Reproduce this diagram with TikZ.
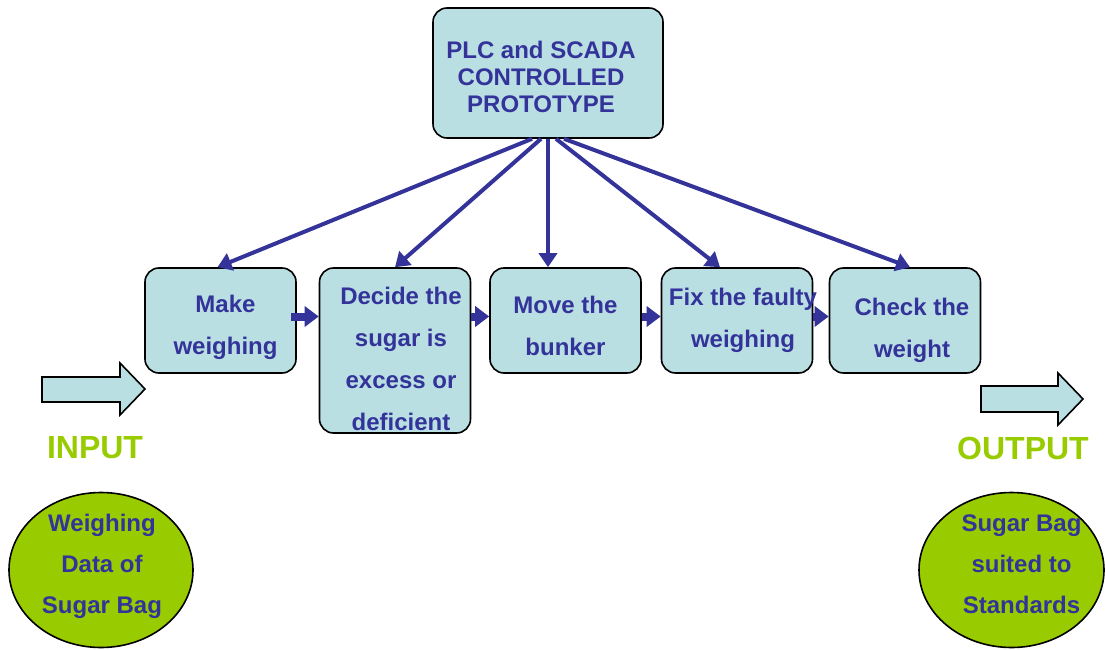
\documentclass[tikz,border=0pt]{standalone}
\usepackage{fontspec}
\setmainfont{Liberation Sans}
\usetikzlibrary{arrows.meta,positioning,shapes.geometric}
\definecolor{cfill}{HTML}{B9DFE3}
\definecolor{cblue}{HTML}{333399}
\definecolor{cgreen}{HTML}{99CC00}

\tikzset{
    stepbox/.style={draw=black, line width=1.6pt, fill=cfill, rounded corners=14pt,
        minimum width=151pt, minimum height=105pt},
    steptext/.style={align=center, text=cblue, inner sep=0pt,
        font=\fontsize{24}{42}\selectfont\bfseries},
    fanarrow/.style={cblue, line width=4pt, -{Triangle[length=14pt,width=18pt]}},
    linkarrow/.style={cblue, line width=8pt, -{Triangle[length=14pt,width=20pt]}},
    blockarrow/.style={draw=black, line width=1.6pt, fill=cfill},
    endblob/.style={ellipse, draw=black, line width=1.6pt, fill=cgreen},
    iolabel/.style={text=cgreen, font=\fontsize{32}{34}\selectfont\bfseries}
}

\begin{document}
\begin{tikzpicture}[x=1pt,y=-1pt]
    \useasboundingbox (0,0) rectangle (1105,650);

    \node[stepbox, minimum width=230pt, minimum height=130pt] (plc) at (548,73) {};
    \node[steptext, font=\fontsize{24}{27}\selectfont\bfseries] (plctext)
          at ([shift={(-7,4)}]plc.center) {PLC and SCADA\\CONTROLLED\\PROTOTYPE};

    \node[stepbox] (make) at (220.5,320.5) {};
    \node[stepbox, minimum height=165pt] (decide) at (395,350.5) {};
    \node[stepbox] (move) at (565.5,320.5) {};
    \node[stepbox] (fix) at (737,320.5) {};
    \node[stepbox] (check) at (905,320.5) {};

    \node[steptext] (maketext) at ([shift={(5,7)}]make.center) {Make\\weighing};
    \node[steptext] (decidetext) at ([shift={(6,8)}]decide.center)
          {Decide the\\sugar is\\excess or\\deficient};
    \node[steptext] (movetext) at ([shift={(0,5)}]move.center) {Move the\\bunker};
    \node[steptext] (fixtext) at ([shift={(6,0)}]fix.center) {Fix the faulty\\weighing};
    \node[steptext] (checktext) at ([shift={(7,10)}]check.center) {Check the\\weight};

    \draw[fanarrow] ([xshift=-16pt]plc.south) -- ([xshift=-3pt]make.north);
    \draw[fanarrow] ([xshift=-7pt]plc.south) -- (decide.north);
    \draw[fanarrow] (plc.south) -- (plc.south |- move.north);
    \draw[fanarrow] ([xshift=8pt]plc.south) -- ([xshift=-17pt]fix.north);
    \draw[fanarrow] ([xshift=16pt]plc.south) -- ([xshift=5pt]check.north);

    \draw[linkarrow] ([yshift=4pt,xshift=-6pt]make.east) -- ([yshift=4pt]make.east -| decide.west);
    \draw[linkarrow] ([yshift=4pt]move.west -| decide.east) -- ([yshift=4pt]move.west);
    \draw[linkarrow] ([yshift=4pt]move.east) -- ([yshift=4pt]fix.west);
    \draw[linkarrow] ([yshift=4pt]fix.east) -- ([yshift=4pt]check.west);

    % input / output
    \draw[blockarrow] (42,377) -- (120,377) -- (120,363) -- (145,389) -- (120,415)
          -- (120,402) -- (42,402) -- cycle;
    \draw[blockarrow] (981,386) -- (1058,386) -- (1058,373) -- (1083,399) -- (1058,425)
          -- (1058,412) -- (981,412) -- cycle;

    \node[iolabel] (inlabel) at (95,448) {INPUT};
    \node[iolabel] (outlabel) at (1023,448) {OUTPUT};

    \node[endblob, minimum width=184pt, minimum height=155pt] (indata) at (101,570) {};
    \node[endblob, minimum width=185pt, minimum height=155pt] (outdata) at (1011.5,570) {};
    \node[steptext, font=\fontsize{24}{41}\selectfont\bfseries] (indatatext)
          at ([shift={(1,-4)}]indata.center) {Weighing\\Data of\\Sugar Bag};
    \node[steptext, font=\fontsize{24}{41}\selectfont\bfseries] (outdatatext)
          at ([shift={(10,-6)}]outdata.center) {Sugar Bag\\suited to\\Standards};
\end{tikzpicture}
\end{document}
